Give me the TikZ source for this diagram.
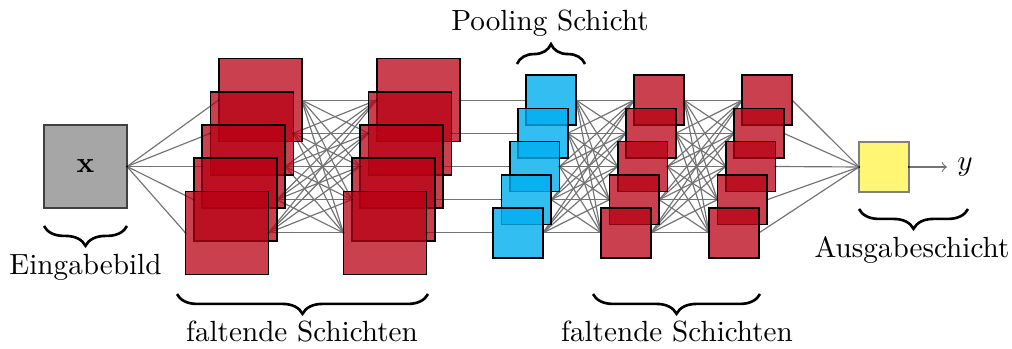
\documentclass[tikz,border=0pt]{standalone}
\usetikzlibrary{decorations.pathreplacing,backgrounds}
\definecolor{convred}{RGB}{184,0,20}
\definecolor{poolblue}{RGB}{0,174,239}
\definecolor{outyellow}{RGB}{255,247,115}
\begin{document}
\begin{tikzpicture}[x=0.12048mm,y=-0.12048mm,
  big/.style={minimum size=1cm, inner sep=0pt, outer sep=0pt},
  small/.style={minimum size=0.6cm, inner sep=0pt, outer sep=0pt},
  convmap/.style={fill=convred, fill opacity=0.75},
  poolmap/.style={fill=poolblue, fill opacity=0.8},
  mapframe/.style={draw=black, line width=0.6pt},
  conn/.style={draw=black!55, line width=0.4pt},
  bracemark/.style={decorate, decoration={brace, amplitude=6.8pt}, line width=0.9pt},
  ]
\useasboundingbox (0,0) rectangle (1012,349);

% input image
\node[big, fill=black!35, draw=black!75, line width=0.6pt] (x) at (85.5,166.5) {$\mathbf{x}$};

% feature maps: each filled map gets its frame before the next one covers it;
% the lowest map of each stack is drawn last
\foreach \n/\x/\s/\k in {a/227/big/convmap, b/385/big/convmap, p/518/small/poolmap,
                         c/626/small/convmap, d/734/small/convmap} {
  \foreach \i in {4,3,...,0} {
    \node[\s, \k] (\n\i) at ({\x+8.3*\i},{232.9-33.2*\i}) {};
    \draw[mapframe] (\n\i.south west) rectangle (\n\i.north east);
  }
}

% output unit
\node[small, fill=outyellow, draw=black!50, line width=0.6pt] (o) at (884,167) {};
\node[anchor=west] (y) at (947,167) {$y$};

% connections
\begin{scope}[on background layer]
  \foreach \j in {0,...,4} \draw[conn] (x.east) -- (a\j.west);
  \foreach \i in {0,...,4} \foreach \j in {0,...,4} \draw[conn] (a\i.east) -- (b\j.west);
  \foreach \i in {0,...,4} \draw[conn] (b\i.east) -- (p\i.west);
  \foreach \i in {0,...,4} \foreach \j in {0,...,4} \draw[conn] (p\i.east) -- (c\j.west);
  \foreach \i in {0,...,4} \foreach \j in {0,...,4} \draw[conn] (c\i.east) -- (d\j.west);
  \foreach \i in {0,...,4} \draw[conn] (d\i.east) -- (o.west);
\end{scope}
\draw[conn,->] (o.east) -- (y.west);

% connection points
\fill (x.east) circle (0.35pt) (o.west) circle (0.35pt) (o.east) circle (0.35pt);
\foreach \n in {a,b,p,c,d} \foreach \i in {0,...,4} {
  \fill (\n\i.west) circle (0.35pt) (\n\i.east) circle (0.35pt);
}

% braces and labels
\draw[bracemark, decoration={mirror}] (44,226) -- (127,226);
\node[anchor=base] (lin) at (85.5,275) {Eingabebild};
\draw[bracemark, decoration={mirror}] (177,294) -- (428,294);
\node[anchor=base] (lconv1) at (302,341) {faltende Schichten};
\draw[bracemark, decoration={mirror}] (593,294) -- (760,294);
\node[anchor=base] (lconv2) at (677,341) {faltende Schichten};
\draw[bracemark] (517,64) -- (585,64);
\node[anchor=base] (lpool) at (550,31) {Pooling Schicht};
\draw[bracemark, decoration={mirror}] (859,209) -- (968,209);
\node[anchor=base] (lout) at (912,258) {Ausgabeschicht};
\end{tikzpicture}
\end{document}
